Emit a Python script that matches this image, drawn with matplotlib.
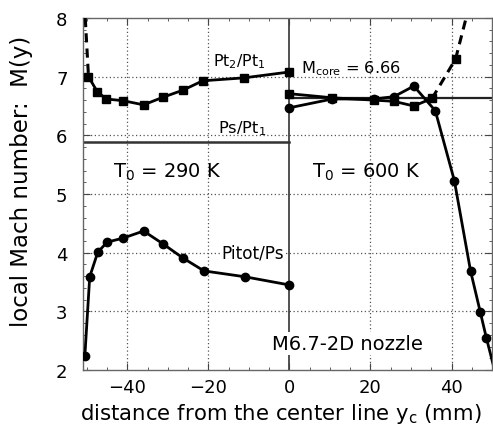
import numpy as np
import matplotlib
matplotlib.use("Agg")
import matplotlib.pyplot as plt
from matplotlib.ticker import MultipleLocator

plt.rcParams['font.family'] = ['DejaVu Sans']

# ── T0 = 290 K (left half, y < 0) ─────────────────────────────────────────────
pt2_left_x = [-49.6, -47.4, -45.2, -41.0, -36.0, -31.2, -26.3, -21.4, -11.2, 0.0]
pt2_left_y = [7.00, 6.74, 6.62, 6.59, 6.52, 6.65, 6.77, 6.93, 6.98, 7.08]
pt2_left_dash_x = [-50.4, -49.6]
pt2_left_dash_y = [8.0, 7.00]

pitot_left_x = [-50.5, -49.3, -47.3, -45.0, -41.0, -36.0, -31.2, -26.3, -21.1, -11.0, 0.0]
pitot_left_y = [2.24, 3.59, 4.01, 4.18, 4.25, 4.37, 4.15, 3.91, 3.69, 3.59, 3.45]

ps_left_level = 5.89

# ── T0 = 600 K (right half, y > 0) ────────────────────────────────────────────
pt2_right_x = [0.0, 10.6, 20.9, 25.8, 30.7, 35.2]
pt2_right_y = [6.71, 6.64, 6.60, 6.58, 6.50, 6.63]
pt2_right_dash_x = [35.2, 41.0, 43.6]
pt2_right_dash_y = [6.63, 7.30, 8.0]

pitot_right_x = [0.0, 10.6, 20.9, 25.8, 30.7, 36.0, 40.7, 44.7, 47.1, 48.6, 51.0]
pitot_right_y = [6.47, 6.62, 6.62, 6.66, 6.84, 6.42, 5.23, 3.69, 2.99, 2.55, 1.90]

m_core = 6.64

fig = plt.figure(figsize=(4.93, 4.27), dpi=100)
ax = fig.add_axes([0.168, 0.131, 0.830, 0.8245])

# grid (dotted) and centre line
for gx in [-40, -20, 20, 40]:
    ax.axvline(gx, color='#555555', lw=0.9, ls=(0, (1, 2)), zorder=0)
for gy in [3, 4, 5, 6, 7]:
    ax.axhline(gy, color='#555555', lw=0.9, ls=(0, (1, 2)), zorder=0)
ax.axvline(0, color='#333333', lw=1.2, zorder=1)

# reference levels
ax.plot([-51, 0], [ps_left_level] * 2, color='#333333', lw=1.8, zorder=2)
ax.plot([0, 50], [m_core] * 2, color='#222222', lw=1.6, zorder=2)

kw = dict(color='black', lw=2.0, ms=6, zorder=3)
ax.plot(pt2_left_x, pt2_left_y, marker='s', **kw)
ax.plot(pt2_left_dash_x, pt2_left_dash_y, ls=(0, (3, 2)), color='black', lw=2.2, zorder=3)
ax.plot(pitot_left_x, pitot_left_y, marker='o', **kw)

ax.plot(pt2_right_x, pt2_right_y, marker='s', **kw)
ax.plot(pt2_right_dash_x, pt2_right_dash_y, ls=(0, (3, 2)), marker='s',
        markevery=[1], color='black', lw=2.2, ms=6, zorder=3)
ax.plot(pitot_right_x, pitot_right_y, marker='o', **kw)

# annotations
ax.text(-18.9, 7.27, r'Pt$_\mathregular{2}$/Pt$_\mathregular{1}$', fontsize=11.4,
        va='center', ha='left')
ax.text(-17.7, 6.06, r'Ps/Pt$_\mathregular{1}$', fontsize=11.7, va='baseline', ha='left')
ax.text(-30.2, 5.38, r'T$_\mathregular{0}$ = 290 K', fontsize=14, va='center', ha='center')
ax.text(18.9, 5.38, r'T$_\mathregular{0}$ = 600 K', fontsize=14, va='center', ha='center')
ax.text(2.9, 7.15, r'M$_\mathregular{core}$ = 6.66', fontsize=11.6, va='center', ha='left')
ax.text(-16.7, 4.01, 'Pitot/Ps', fontsize=12.2, va='center', ha='left',
        bbox=dict(facecolor='white', edgecolor='none', pad=1))
ax.text(-4.4, 2.45, 'M6.7-2D nozzle', fontsize=14, va='center', ha='left',
        bbox=dict(facecolor='white', edgecolor='none', pad=1.5))

ax.set_xlim(-51, 50)
ax.set_ylim(2, 8)
ax.xaxis.set_major_locator(MultipleLocator(20))
ax.xaxis.set_minor_locator(MultipleLocator(5))
ax.yaxis.set_major_locator(MultipleLocator(1))
ax.yaxis.set_minor_locator(MultipleLocator(0.2))
ax.tick_params(which='both', direction='in', top=True, right=True,
               colors='#444444', labelcolor='black', labelsize=13)
ax.tick_params(axis='x', which='major', length=5, pad=6)
ax.tick_params(axis='y', which='major', length=5, pad=11)
ax.tick_params(which='minor', length=2.5)
for s in ax.spines.values():
    s.set_color('#666666')
    s.set_linewidth(1.0)

ax.set_xlabel(r'distance from the center line y$_\mathregular{c}$ (mm)', fontsize=15.3)
ax.xaxis.set_label_coords(0.485, -0.088, transform=ax.transAxes)
ax.xaxis.label.set_va('top')
ax.set_ylabel('local Mach number:  M(y)', fontsize=16.5)
ax.yaxis.set_label_coords(-0.122, 0.54, transform=ax.transAxes)

fig.savefig('out.png', dpi=100)
